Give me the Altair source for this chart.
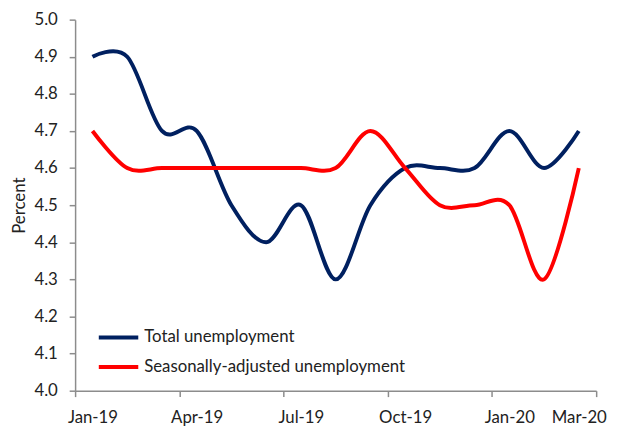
import altair as alt
import pandas as pd

months = ["Jan-19", "Feb-19", "Mar-19", "Apr-19", "May-19", "Jun-19", "Jul-19",
          "Aug-19", "Sep-19", "Oct-19", "Nov-19", "Dec-19", "Jan-20", "Feb-20", "Mar-20"]
total = [4.9, 4.9, 4.7, 4.7, 4.5, 4.4, 4.5, 4.3, 4.5, 4.6, 4.6, 4.6, 4.7, 4.6, 4.7]
seasonal = [4.7, 4.6, 4.6, 4.6, 4.6, 4.6, 4.6, 4.6, 4.7, 4.6, 4.5, 4.5, 4.5, 4.3, 4.6]
series_names = ["Total unemployment", "Seasonally-adjusted unemployment"]
series_colors = ["#002060", "#FF0000"]
y_ticks = [4.0, 4.1, 4.2, 4.3, 4.4, 4.5, 4.6, 4.7, 4.8, 4.9, 5.0]

rows = []
for i, m in enumerate(months):
    rows.append({"idx": i, "month": m, "series": series_names[0], "value": total[i]})
    rows.append({"idx": i, "month": m, "series": series_names[1], "value": seasonal[i]})
df = pd.DataFrame(rows)

label_idx = [0, 3, 6, 9, 12, 14]
tick_pos = [-0.5, 2.5, 5.5, 8.5, 11.5, 14.5]
x_values = sorted(label_idx + tick_pos)
month_arr = "[" + ",".join("'" + m + "'" for m in months) + "]"

FONT = "Lato"
FS = 17

chart = alt.Chart(df).mark_line(strokeWidth=4, interpolate="cardinal").encode(
    x=alt.X("idx:Q", scale=alt.Scale(domain=[-0.5, 14.5], nice=False, zero=False),
            axis=alt.Axis(values=x_values, title=None, grid=False,
                          labelExpr=f"datum.value % 1 == 0 ? {month_arr}[datum.value] : ''",
                          tickOpacity={"condition": {"test": "datum.value % 1 == 0", "value": 0}, "value": 1},
                          labelOverlap=False, labelFlush=False, labelBound=False,
                          tickSize=6, labelPadding=13)),
    y=alt.Y("value:Q", scale=alt.Scale(domain=[4.0, 5.0], nice=False, zero=False),
            axis=alt.Axis(values=y_ticks, format=".1f", title="Percent", grid=False,
                          tickSize=6, labelPadding=12, titleX=-47, titleY=188)),
    color=alt.Color("series:N", sort=series_names,
                    scale=alt.Scale(domain=series_names, range=series_colors),
                    legend=alt.Legend(title=None, orient="none", legendX=22, legendY=300,
                                      symbolType="stroke", symbolSize=1600, symbolStrokeWidth=4,
                                      labelFontSize=FS, labelFont=FONT, labelColor="#222222",
                                      labelLimit=0, rowPadding=0, labelOffset=4)),
).properties(
    width=528, height=376,
    autosize=alt.AutoSizeParams(type="none"),
    padding={"left": 68, "top": 9, "right": 13, "bottom": 35},
).configure_view(stroke=None).configure_axis(
    domainColor="#8c8c8c", tickColor="#8c8c8c", domainWidth=1.5, tickWidth=1.5,
    labelFont=FONT, labelFontSize=FS, labelColor="#222222",
    titleFont=FONT, titleFontSize=FS, titleColor="#222222", titleFontWeight="normal",
)

chart.save("out.html", embed_options={"renderer": "svg", "actions": False})
